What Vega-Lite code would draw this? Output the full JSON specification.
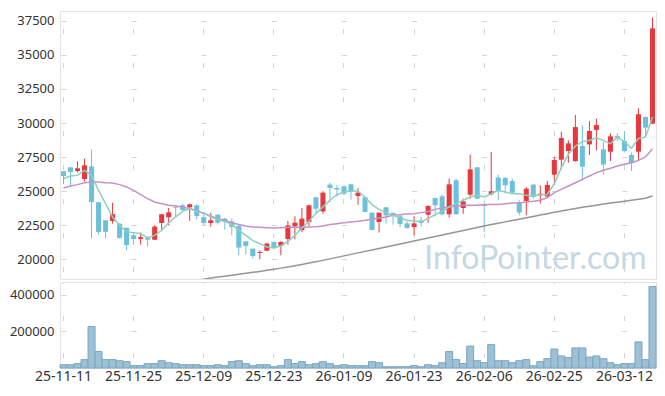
{
  "$schema": "https://vega.github.io/schema/vega-lite/v6.json",
  "padding": {"left": 8, "top": 10, "right": 8, "bottom": 0},
  "spacing": 3,
  "bounds": "flush",
  "config": {
    "view": {"stroke": "#e2e2e2"},
    "font": "Noto Sans",
    "axis": {"labelFont": "Noto Sans", "labelFontSize": 13, "labelColor": "#333333", "title": null, "domain": false, "ticks": false, "gridColor": "#d4d4d4", "gridWidth": 1, "labelOverlap": false, "labelFlush": false, "labelSeparation": 0},
    "axisY": {"labelOverlap": false}
  },
  "datasets": {
    "k": [
      {"d":"25-11-11","o":26450,"h":26460,"l":25500,"c":26100,"v":18000,"m5":25900,"m20":25220,"m60":null},
      {"d":"25-11-12","o":26740,"h":26750,"l":25370,"c":26400,"v":18000,"m5":26100,"m20":25370,"m60":null},
      {"d":"25-11-13","o":26470,"h":27180,"l":26350,"c":26670,"v":24000,"m5":26150,"m20":25470,"m60":null},
      {"d":"25-11-14","o":25880,"h":27380,"l":25700,"c":26890,"v":46000,"m5":26520,"m20":25610,"m60":null},
      {"d":"25-11-17","o":26810,"h":28060,"l":21500,"c":24190,"v":227000,"m5":26150,"m20":25660,"m60":null},
      {"d":"25-11-18","o":24170,"h":24170,"l":21790,"c":21990,"v":90000,"m5":25050,"m20":25660,"m60":null},
      {"d":"25-11-19","o":22850,"h":22850,"l":21500,"c":22000,"v":46000,"m5":24070,"m20":25610,"m60":null},
      {"d":"25-11-20","o":22800,"h":24140,"l":22600,"c":23290,"v":46000,"m5":23090,"m20":25590,"m60":null},
      {"d":"25-11-21","o":22600,"h":22620,"l":21500,"c":21550,"v":40000,"m5":22480,"m20":25470,"m60":null},
      {"d":"25-11-24","o":22300,"h":22300,"l":20640,"c":21030,"v":35000,"m5":21990,"m20":25300,"m60":null},
      {"d":"25-11-25","o":21740,"h":21990,"l":21060,"c":21470,"v":13000,"m5":21940,"m20":25050,"m60":null},
      {"d":"25-11-26","o":21470,"h":21940,"l":21060,"c":21600,"v":13000,"m5":21870,"m20":24730,"m60":null},
      {"d":"25-11-27","o":21570,"h":21670,"l":20930,"c":21420,"v":24000,"m5":21550,"m20":24440,"m60":null},
      {"d":"25-11-28","o":21420,"h":22480,"l":21400,"c":22380,"v":24000,"m5":21740,"m20":24190,"m60":null},
      {"d":"25-12-01","o":22650,"h":23300,"l":22160,"c":23290,"v":40000,"m5":22110,"m20":24070,"m60":null},
      {"d":"25-12-02","o":23070,"h":23750,"l":22480,"c":23430,"v":29000,"m5":22670,"m20":23950,"m60":null},
      {"d":"25-12-03","o":23800,"h":24000,"l":23090,"c":23750,"v":24000,"m5":23090,"m20":23900,"m60":null},
      {"d":"25-12-04","o":23950,"h":24070,"l":23500,"c":23600,"v":18000,"m5":23500,"m20":23830,"m60":null},
      {"d":"25-12-05","o":23800,"h":24070,"l":22800,"c":24020,"v":18000,"m5":23700,"m20":23700,"m60":18300},
      {"d":"25-12-08","o":23950,"h":24020,"l":22920,"c":23165,"v":18000,"m5":23500,"m20":23580,"m60":18420},
      {"d":"25-12-09","o":23070,"h":23260,"l":22480,"c":22650,"v":13000,"m5":23410,"m20":23340,"m60":18520},
      {"d":"25-12-10","o":22650,"h":23400,"l":22380,"c":22845,"v":13000,"m5":23090,"m20":23160,"m60":18600},
      {"d":"25-12-11","o":23260,"h":23300,"l":22530,"c":22670,"v":18000,"m5":22920,"m20":22970,"m60":18670},
      {"d":"25-12-12","o":22970,"h":23020,"l":22160,"c":22720,"v":13000,"m5":22770,"m20":22850,"m60":18740},
      {"d":"25-12-15","o":22770,"h":22970,"l":21740,"c":22350,"v":35000,"m5":22530,"m20":22670,"m60":18810},
      {"d":"25-12-16","o":22430,"h":22500,"l":20270,"c":20840,"v":40000,"m5":22110,"m20":22530,"m60":18880},
      {"d":"25-12-17","o":21300,"h":21300,"l":20320,"c":20960,"v":24000,"m5":21740,"m20":22430,"m60":18950},
      {"d":"25-12-18","o":20760,"h":20780,"l":20030,"c":20220,"v":13000,"m5":21350,"m20":22350,"m60":19020},
      {"d":"25-12-19","o":20450,"h":20640,"l":19990,"c":20520,"v":18000,"m5":21130,"m20":22330,"m60":19090},
      {"d":"25-12-22","o":20610,"h":21200,"l":20560,"c":21130,"v":18000,"m5":20890,"m20":22300,"m60":19170},
      {"d":"25-12-23","o":21250,"h":21300,"l":20760,"c":20810,"v":7000,"m5":20810,"m20":22280,"m60":19250},
      {"d":"25-12-24","o":20960,"h":21300,"l":20270,"c":21250,"v":13000,"m5":20960,"m20":22300,"m60":19330},
      {"d":"25-12-26","o":21470,"h":22800,"l":21060,"c":22475,"v":46000,"m5":21300,"m20":22330,"m60":19420},
      {"d":"25-12-29","o":22400,"h":23140,"l":21450,"c":22670,"v":24000,"m5":21740,"m20":22330,"m60":19510},
      {"d":"25-12-30","o":22130,"h":23750,"l":21990,"c":22970,"v":35000,"m5":22280,"m20":22330,"m60":19600},
      {"d":"26-01-02","o":22720,"h":23990,"l":22430,"c":23950,"v":18000,"m5":22770,"m20":22350,"m60":19700},
      {"d":"26-01-05","o":24540,"h":24540,"l":23340,"c":23700,"v":24000,"m5":23340,"m20":22380,"m60":19800},
      {"d":"26-01-06","o":23500,"h":24980,"l":23340,"c":24880,"v":35000,"m5":23830,"m20":22430,"m60":19900},
      {"d":"26-01-07","o":25470,"h":25610,"l":24190,"c":25220,"v":24000,"m5":24320,"m20":22530,"m60":20010},
      {"d":"26-01-08","o":25220,"h":25420,"l":24600,"c":25100,"v":13000,"m5":24730,"m20":22600,"m60":20120},
      {"d":"26-01-09","o":25340,"h":25420,"l":24680,"c":24800,"v":18000,"m5":24930,"m20":22670,"m60":20230},
      {"d":"26-01-12","o":25490,"h":25500,"l":24360,"c":24930,"v":13000,"m5":25020,"m20":22720,"m60":20340},
      {"d":"26-01-13","o":24630,"h":25220,"l":23990,"c":24880,"v":13000,"m5":24980,"m20":22770,"m60":20450},
      {"d":"26-01-14","o":24540,"h":24560,"l":23440,"c":23460,"v":13000,"m5":24560,"m20":22850,"m60":20560},
      {"d":"26-01-15","o":23410,"h":23410,"l":22130,"c":22130,"v":35000,"m5":24000,"m20":22920,"m60":20670},
      {"d":"26-01-16","o":22720,"h":23430,"l":21940,"c":23410,"v":29000,"m5":23650,"m20":23020,"m60":20780},
      {"d":"26-01-19","o":23800,"h":23820,"l":22600,"c":23210,"v":7000,"m5":23410,"m20":23090,"m60":20890},
      {"d":"26-01-20","o":23400,"h":23400,"l":22520,"c":23250,"v":7000,"m5":23210,"m20":23210,"m60":21000},
      {"d":"26-01-21","o":23140,"h":23260,"l":22350,"c":22580,"v":7000,"m5":23020,"m20":23260,"m60":21110},
      {"d":"26-01-22","o":22620,"h":22770,"l":22230,"c":22280,"v":7000,"m5":22845,"m20":23310,"m60":21220},
      {"d":"26-01-23","o":22350,"h":23140,"l":21740,"c":22620,"v":13000,"m5":22770,"m20":23330,"m60":21330},
      {"d":"26-01-26","o":22820,"h":23090,"l":22400,"c":22650,"v":7000,"m5":22770,"m20":23410,"m60":21440},
      {"d":"26-01-27","o":23260,"h":23940,"l":22670,"c":23900,"v":18000,"m5":22970,"m20":23500,"m60":21550},
      {"d":"26-01-28","o":24490,"h":24500,"l":23140,"c":23950,"v":13000,"m5":23260,"m20":23650,"m60":21660},
      {"d":"26-01-29","o":24610,"h":24730,"l":23210,"c":23290,"v":29000,"m5":23500,"m20":23750,"m60":21770},
      {"d":"26-01-30","o":23290,"h":25910,"l":23040,"c":25490,"v":90000,"m5":23830,"m20":23830,"m60":21880},
      {"d":"26-02-02","o":25790,"h":25910,"l":23260,"c":23290,"v":46000,"m5":24070,"m20":23900,"m60":21990},
      {"d":"26-02-03","o":23750,"h":24440,"l":23330,"c":24240,"v":24000,"m5":24320,"m20":23950,"m60":22100},
      {"d":"26-02-04","o":24730,"h":27670,"l":24440,"c":26590,"v":120000,"m5":24560,"m20":23950,"m60":22210},
      {"d":"26-02-05","o":26740,"h":26760,"l":24420,"c":24440,"v":40000,"m5":24680,"m20":23950,"m60":22320},
      {"d":"26-02-06","o":24000,"h":24050,"l":21990,"c":23900,"v":29000,"m5":24560,"m20":24000,"m60":22430},
      {"d":"26-02-09","o":24760,"h":27870,"l":24680,"c":24980,"v":128000,"m5":24800,"m20":24000,"m60":22530},
      {"d":"26-02-10","o":25990,"h":26200,"l":24320,"c":24980,"v":40000,"m5":25050,"m20":24000,"m60":22630},
      {"d":"26-02-11","o":25960,"h":26030,"l":24800,"c":25420,"v":40000,"m5":24930,"m20":24070,"m60":22730},
      {"d":"26-02-12","o":25740,"h":25910,"l":24800,"c":24880,"v":29000,"m5":24800,"m20":24120,"m60":22830},
      {"d":"26-02-13","o":24190,"h":24320,"l":23210,"c":23410,"v":40000,"m5":24800,"m20":24120,"m60":22930},
      {"d":"26-02-19","o":24270,"h":25300,"l":23210,"c":25170,"v":46000,"m5":24680,"m20":24190,"m60":23030},
      {"d":"26-02-20","o":25470,"h":25490,"l":24440,"c":24560,"v":13000,"m5":24630,"m20":24240,"m60":23130},
      {"d":"26-02-23","o":24680,"h":25420,"l":24070,"c":24800,"v":35000,"m5":24730,"m20":24320,"m60":23230},
      {"d":"26-02-24","o":24600,"h":25740,"l":24460,"c":25450,"v":51000,"m5":24750,"m20":24510,"m60":23330},
      {"d":"26-02-25","o":26200,"h":27520,"l":25440,"c":27280,"v":104000,"m5":25540,"m20":24880,"m60":23430},
      {"d":"26-02-26","o":27300,"h":29360,"l":26620,"c":28900,"v":66000,"m5":26720,"m20":25120,"m60":23530},
      {"d":"26-02-27","o":27940,"h":28720,"l":27080,"c":28500,"v":57000,"m5":27700,"m20":25370,"m60":23620},
      {"d":"26-03-03","o":27200,"h":30590,"l":27160,"c":29700,"v":110000,"m5":28310,"m20":25610,"m60":23710},
      {"d":"26-03-04","o":28310,"h":29830,"l":25740,"c":26790,"v":110000,"m5":28630,"m20":25860,"m60":23800},
      {"d":"26-03-05","o":28430,"h":30150,"l":27650,"c":29410,"v":60000,"m5":28720,"m20":26100,"m60":23880},
      {"d":"26-03-06","o":29490,"h":30320,"l":27990,"c":29850,"v":66000,"m5":28920,"m20":26350,"m60":23960},
      {"d":"26-03-09","o":28060,"h":28600,"l":26225,"c":26940,"v":51000,"m5":28720,"m20":26520,"m60":24040},
      {"d":"26-03-10","o":27890,"h":29240,"l":27200,"c":29020,"v":29000,"m5":28480,"m20":26670,"m60":24110},
      {"d":"26-03-11","o":29040,"h":29240,"l":28680,"c":28920,"v":18000,"m5":28970,"m20":26840,"m60":24180},
      {"d":"26-03-12","o":28680,"h":29410,"l":27840,"c":27940,"v":24000,"m5":28630,"m20":26960,"m60":24250},
      {"d":"26-03-13","o":27650,"h":27820,"l":26470,"c":27060,"v":24000,"m5":28140,"m20":27080,"m60":24320},
      {"d":"26-03-16","o":27890,"h":31080,"l":27250,"c":30640,"v":143000,"m5":28870,"m20":27250,"m60":24390},
      {"d":"26-03-17","o":30440,"h":30490,"l":29040,"c":29660,"v":46000,"m5":28970,"m20":27500,"m60":24470},
      {"d":"26-03-18","o":29950,"h":37750,"l":29950,"c":36960,"v":446000,"m5":30440,"m20":28110,"m60":24630}
    ],
    "wm": [{"d": "26-03-18", "p": 19250, "t": "InfoPointer.com"}]
  },
  "vconcat": [
    {
      "width": 596,
      "height": 268,
      "data": {"name": "k"},
      "encoding": {
        "x": {
          "field": "d", "type": "ordinal",
          "scale": {"type": "band", "paddingInner": 0, "paddingOuter": 0},
          "axis": {"labels": false, "labelPadding": 0, "grid": true, "gridDash": [5, 29], "gridDashOffset": -17.5,
            "values": ["25-11-11","25-11-25","25-12-09","25-12-23","26-01-09","26-01-23","26-02-06","26-02-25","26-03-12"]}
        }
      },
      "layer": [
        {
          "mark": {"type": "rule", "strokeWidth": 1},
          "encoding": {
            "y": {"field": "l", "type": "quantitative", "scale": {"domain": [18530, 38235], "nice": false, "zero": false},
              "axis": {"values": [20000,22500,25000,27500,30000,32500,35000,37500], "tickCount": 8, "format": "d", "labelPadding": 6, "labelOverlap": false, "labelBound": false,
                "grid": true, "gridDash": [5, 65.1], "gridDashOffset": -1}},
            "y2": {"field": "h"},
            "color": {"condition": {"test": "datum.c >= datum.o", "value": "#E8383D"}, "value": "#6CC1DA"}
          }
        },
        {
          "data": {"name": "wm"},
          "mark": {"type": "text", "font": "Lato", "fontSize": 32, "color": "#C5D7E2", "align": "right", "baseline": "alphabetic", "dx": -6},
          "encoding": {
            "y": {"field": "p", "type": "quantitative", "axis": {"values": [20000,22500,25000,27500,30000,32500,35000,37500], "labelOverlap": false}},
            "text": {"field": "t"}
          }
        },
        {
          "mark": {"type": "bar", "width": {"band": 0.72}},
          "encoding": {
            "y": {"field": "o", "type": "quantitative", "axis": {"values": [20000,22500,25000,27500,30000,32500,35000,37500], "labelOverlap": false}},
            "y2": {"field": "c"},
            "color": {"condition": {"test": "datum.c >= datum.o", "value": "#E8383D"}, "value": "#6CC1DA"}
          }
        },
        {
          "mark": {"type": "line", "color": "#959595", "strokeWidth": 1.5, "clip": true},
          "encoding": {"y": {"field": "m60", "type": "quantitative", "axis": {"values": [20000,22500,25000,27500,30000,32500,35000,37500], "labelOverlap": false}}}
        },
        {
          "mark": {"type": "line", "color": "#C98FC6", "strokeWidth": 1.5},
          "encoding": {"y": {"field": "m20", "type": "quantitative", "axis": {"values": [20000,22500,25000,27500,30000,32500,35000,37500], "labelOverlap": false}}}
        },
        {
          "mark": {"type": "line", "color": "#8ECFC0", "strokeWidth": 1.5},
          "encoding": {"y": {"field": "m5", "type": "quantitative", "axis": {"values": [20000,22500,25000,27500,30000,32500,35000,37500], "labelOverlap": false}}}
        }
      ]
    },
    {
      "width": 596,
      "height": 86,
      "data": {"name": "k"},
      "mark": {"type": "bar", "fill": "#9DC0D4", "stroke": "#79A6C2", "strokeWidth": 1, "width": {"band": 1}},
      "encoding": {
        "x": {
          "field": "d", "type": "ordinal",
          "scale": {"type": "band", "paddingInner": 0, "paddingOuter": 0},
          "axis": {"labelAngle": 0, "labelPadding": 1, "labelFontSize": 14, "labelOverlap": false, "grid": true, "gridDash": [5, 32], "gridDashOffset": -33.5,
            "values": ["25-11-11","25-11-25","25-12-09","25-12-23","26-01-09","26-01-23","26-02-06","26-02-25","26-03-12"]}
        },
        "y": {
          "field": "v", "type": "quantitative",
          "scale": {"domain": [0, 471000], "nice": false},
          "axis": {"values": [200000, 400000], "format": "d", "labelPadding": 6, "labelOverlap": false, "grid": true, "gridDash": [5, 65.1], "gridDashOffset": -1}
        }
      }
    }
  ]
}
